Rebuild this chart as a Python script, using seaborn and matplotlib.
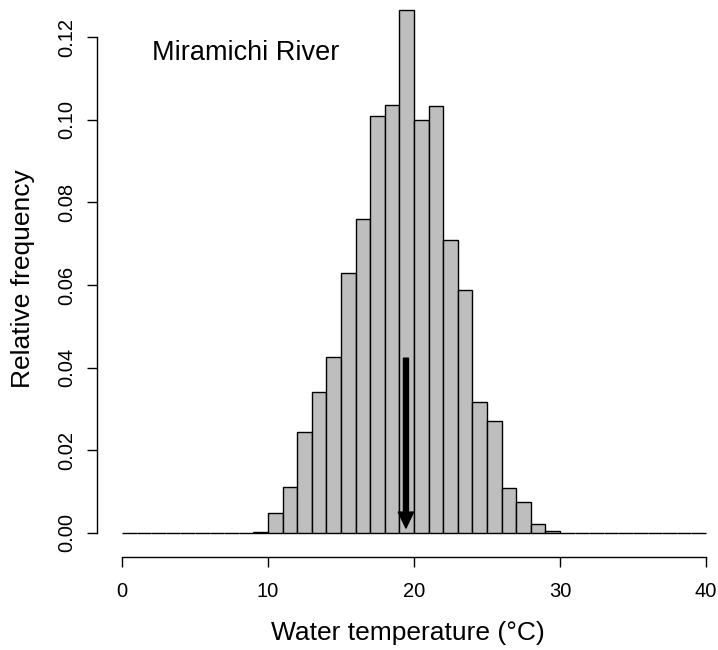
import numpy as np
import pandas as pd
import matplotlib
matplotlib.use("Agg")
import matplotlib.pyplot as plt
import seaborn as sns

# ---- data ----
bin_left = list(range(0, 40))          # 1 degree bins, 0..40 °C
rel_freq = [0.0, 0.0, 0.0, 0.0, 0.0, 0.0, 0.0, 0.0, 0.0, 0.0003,
            0.0049, 0.0112, 0.0245, 0.0341, 0.0425, 0.0628, 0.0760, 0.1008, 0.1036, 0.1265,
            0.1000, 0.1033, 0.0710, 0.0589, 0.0316, 0.0271, 0.0110, 0.0076, 0.0022, 0.0005,
            0.0, 0.0, 0.0, 0.0, 0.0, 0.0, 0.0, 0.0, 0.0, 0.0]
x_ticks = [0, 10, 20, 30, 40]
y_ticks = [0.00, 0.02, 0.04, 0.06, 0.08, 0.10, 0.12]
y_tick_labels = ["0.00", "0.02", "0.04", "0.06", "0.08", "0.10", "0.12"]
arrow_x = 19.45
arrow_top = 0.0423
arrow_tip = 0.0012
title_text = "Miramichi River"
x_label = "Water temperature (°C)"
y_label = "Relative frequency"

df = pd.DataFrame({"mid": np.array(bin_left) + 0.5, "freq": rel_freq})
edges = list(range(0, 41))

sns.set_theme(style="ticks")
plt.rcParams["font.family"] = ["Liberation Sans", "DejaVu Sans"]
plt.rcParams["text.color"] = "black"
plt.rcParams["axes.labelcolor"] = "black"
plt.rcParams["xtick.color"] = "black"
plt.rcParams["ytick.color"] = "black"

W, H = 718, 650
fig = plt.figure(figsize=(W / 100, H / 100), dpi=100)
# axes pixel box: left 97, right 718, bottom 557, top 0
ax = fig.add_axes([97 / W, (H - 557) / H, (718 - 97) / W, 557 / H])

sns.histplot(data=df, x="mid", weights="freq", bins=edges, stat="count",
             color="#BEBEBE", edgecolor="black", linewidth=1.0, alpha=1.0,
             ax=ax)

px_per_x = 14.6
px_per_y = 4133.0
ax.set_xlim(-(122 - 97) / px_per_x, (718 - 122) / px_per_x)
ax.set_ylim(-(557 - 533) / px_per_y, 533 / px_per_y)

ax.spines["top"].set_visible(False)
ax.spines["right"].set_visible(False)
ax.spines["left"].set_bounds(0, 0.12)
ax.spines["bottom"].set_bounds(0, 40)
for s in ("left", "bottom"):
    ax.spines[s].set_linewidth(1.0)
    ax.spines[s].set_color("black")

ax.set_xticks(x_ticks)
ax.set_xticklabels([str(t) for t in x_ticks])
ax.set_yticks(y_ticks)
ax.set_yticklabels(y_tick_labels, rotation=90, va="center")
ax.tick_params(axis="both", direction="out", length=7.2, width=1.0,
               colors="black", labelcolor="black", labelsize=14.5)
ax.tick_params(axis="x", pad=11)
ax.tick_params(axis="y", pad=8)

ax.set_xlabel(x_label, fontsize=19, labelpad=14, color="black")
ax.set_ylabel(y_label, fontsize=19, labelpad=16, color="black")

ax.annotate("", xy=(arrow_x, arrow_tip), xytext=(arrow_x, arrow_top),
            arrowprops=dict(width=3.6, headwidth=11, headlength=11.5,
                            facecolor="black", edgecolor="black", shrink=0))

ax.text(2.05, 0.1144, title_text, fontsize=19.5, ha="left", va="baseline",
        color="black")

ax.set_facecolor("white")
fig.patch.set_facecolor("white")
fig.savefig("out.png", dpi=100)
